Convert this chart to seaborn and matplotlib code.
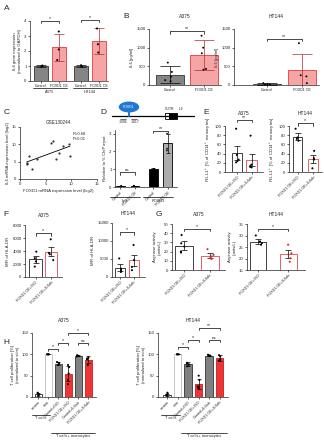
import numpy as np
import pandas as pd
import matplotlib
matplotlib.use('Agg')
import matplotlib.pyplot as plt
import seaborn as sns
from matplotlib.patches import Rectangle, Ellipse
from matplotlib.transforms import blended_transform_factory as btf

sns.set_style('ticks')
plt.rcParams['font.family'] = ['Liberation Sans', 'DejaVu Sans']
plt.rcParams['mathtext.default'] = 'regular'
np.random.seed(3)

# ---------------- data ----------------
# A
A_groups = ['A375', 'HT144']
A_conds = ['Control', 'FOXD1 OE']
A_means = [1.0, 2.25, 1.0, 2.65]
A_errs = [0.05, 0.9, 0.06, 0.85]
A_points = [[1.0, 1.03, 0.97, 1.0], [3.3, 2.1, 1.4], [1.0, 1.05, 0.96], [3.5, 2.45, 1.9]]
# B
B_cats = ['Control', 'FOXD1 OE']
B_A375_means = [280, 800]
B_A375_errs = [220, 400]
B_A375_points = [[600, 350, 220, 130, 100], [1320, 1000, 850, 430, 410]]
B_HT144_means = [30, 410]
B_HT144_errs = [25, 430]
B_HT144_points = [[50, 30, 20, 15], [1120, 260, 230, 50]]
# C
C_foxd1 = [1.3, 1.3, 1.8, 2.3, 3.3, 6.0, 6.5, 7.0, 7.6, 8.3, 9.6, 9.7]
C_il6 = [4.2, 4.6, 6.7, 3.0, 5.8, 10.4, 11.1, 5.8, 7.6, 9.4, 10.1, 6.7]
# D
D_groups = ['IgG', 'FOXD1']
D_conds = ['Control', 'FOXD1 OE']
D_means = [0.05, 0.06, 1.0, 2.45]
D_errs = [0.02, 0.02, 0.05, 0.55]
D_points = [[0.05, 0.06, 0.04], [0.06, 0.07, 0.05], [1.0, 1.02, 0.98], [3.0, 2.15, 2.05]]
# E, F, G
EFG_cats = ['FOXD1 OE+ISO', 'FOXD1 OE+IL6ab']
E_A375_means = [41, 26]
E_A375_errs = [15, 14]
E_A375_points = [[94, 37, 27, 24, 21], [79, 16, 13, 11, 10]]
E_HT144_means = [77, 28]
E_HT144_errs = [7, 8]
E_HT144_points = [[94, 75, 72, 68], [46, 30, 27, 8]]
F_A375_means = [2700, 3900]
F_A375_errs = [500, 720]
F_A375_points = [[3900, 2900, 2400, 1600], [5800, 3700, 3500, 2600]]
F_HT144_means = [2600, 4650]
F_HT144_errs = [900, 1600]
F_HT144_points = [[5150, 1880, 1400, 2300], [8900, 4700, 2800, 1900]]
G_A375_means = [26.3, 15.5]
G_A375_errs = [4.7, 2.9]
G_A375_points = [[38, 29, 20, 19, 25.5], [22.6, 16.4, 14.6, 12.8, 12]]
G_HT144_means = [27.3, 21.9]
G_HT144_errs = [1.0, 1.6]
G_HT144_points = [[30, 26.7, 26, 27.4], [26, 22.3, 20.1, 18.6]]
# H
H_cats = ['unstim', 'stim', 'Control+ISO', 'FOXD1 OE+ISO', 'Control+IL6ab', 'FOXD1 OE+IL6ab']
H_A375_means = [6, 100, 78, 55, 97, 87]
H_A375_errs = [3, 0, 4, 17, 2, 8]
H_A375_points = [[5, 8, 10, 3], [100, 100, 100, 100], [80, 78, 75, 82],
                 [75, 70, 55, 40, 30], [97, 98, 95, 96], [92, 90, 75, 88]]
H_HT144_means = [5, 100, 77, 30, 97, 92]
H_HT144_errs = [3, 0, 4, 12, 2, 7]
H_HT144_points = [[5, 8, 10, 3], [100, 100, 100, 100], [80, 78, 72, 76],
                  [50, 40, 25, 22, 20], [97, 98, 99, 96], [98, 95, 85, 88]]

# ---------------- helpers ----------------
W, H = 324, 440
fig = plt.figure(figsize=(W / 100, H / 100), dpi=100)
FS = 3.1     # tick labels
YL = 3.1     # axis labels
ROT = 2.7    # rotated category labels
TT = 3.6     # titles

def px_axes(l, t, r, b):
    return fig.add_axes([l / W, 1 - b / H, (r - l) / W, (b - t) / H])

def style(ax):
    sns.despine(ax=ax)
    ax.tick_params(labelsize=FS, length=1.5, width=0.5, pad=1)
    for s in ax.spines.values():
        s.set_linewidth(0.5)
    ax.set_xlabel('')

def rects_of(ax):
    return sorted([p for p in ax.patches if isinstance(p, Rectangle)], key=lambda p: p.get_x())

def finish_bars(ax, rects, means, errs, faces, edges, ecols, cap):
    cs = []
    for r, f, e, m, er, ec in zip(rects, faces, edges, means, errs, ecols):
        r.set_facecolor(f)
        r.set_edgecolor(e)
        r.set_linewidth(0.6)
        cx = r.get_x() + r.get_width() / 2
        cs.append(cx)
        ax.errorbar(cx, m, yerr=er, fmt='none', ecolor=ec, elinewidth=0.5,
                    capsize=cap, capthick=0.5, zorder=3)
    return cs

def simple_bars(ax, cats, means, errs, points, faces, edges, ecols, dots,
                width, cap=1.5, jitter=0.1, dsize=1.5):
    sns.barplot(x=cats, y=means, hue=cats, order=cats, hue_order=cats,
                palette=dict(zip(cats, faces)), width=width, errorbar=None,
                legend=False, saturation=1, ax=ax)
    cs = finish_bars(ax, rects_of(ax), means, errs, faces, edges, ecols, cap)
    px = [c for c, pts in zip(cats, points) for _ in pts]
    py = [v for pts in points for v in pts]
    sns.stripplot(x=px, y=py, hue=px, order=cats, hue_order=cats,
                  palette=dict(zip(cats, dots)), jitter=jitter, size=dsize,
                  legend=False, ax=ax, zorder=4, linewidth=0)
    style(ax)
    return cs

def grouped_bars(ax, groups, conds, means, errs, points, faces, edges, ecols,
                 gap, cap, jitter=0.05, dsize=1.5):
    g = [gr for gr in groups for _ in conds]
    c = [cd for _ in groups for cd in conds]
    sns.barplot(x=g, y=means, hue=c, order=groups, hue_order=conds,
                palette=dict(zip(conds, faces[:2])), width=0.9, gap=gap,
                errorbar=None, legend=False, saturation=1, ax=ax)
    cs = finish_bars(ax, rects_of(ax), means, errs, faces, edges, ecols, cap)
    pg = [gr for gr, pts in zip(g, points) for _ in pts]
    pc = [cd for cd, pts in zip(c, points) for _ in pts]
    pv = [v for pts in points for v in pts]
    sns.stripplot(x=pg, y=pv, hue=pc, order=groups, hue_order=conds, dodge=True,
                  palette={k: 'k' for k in conds}, jitter=jitter, size=dsize,
                  legend=False, ax=ax, zorder=4, linewidth=0)
    style(ax)
    return cs

def sig(ax, x1, x2, y, h, txt, fs=3.8):
    ax.plot([x1, x1, x2, x2], [y - h, y, y, y - h], color='k', lw=0.5, clip_on=False)
    ax.text((x1 + x2) / 2, y, txt, ha='center', va='bottom', fontsize=fs, clip_on=False)

def rot_labels(ax, cs, labels):
    ax.set_xticks(cs)
    ax.set_xticklabels(labels, rotation=45, ha='right', rotation_mode='anchor', fontsize=ROT)

def group_line(ax, x0, x1, yl, yt, txt):
    tr = btf(ax.transData, ax.transAxes)
    ax.plot([x0, x1], [yl, yl], transform=tr, color='k', lw=0.5, clip_on=False)
    ax.text((x0 + x1) / 2, yt, txt, transform=tr, ha='center', va='top', fontsize=2.9)

GREY, GREYE = '#858585', '#333333'
PINK, PINKE = '#f6a5a6', '#e6393d'
RED = '#ee3434'

# ---------------- A ----------------
ax = px_axes(30, 21, 108, 81)
cs = grouped_bars(ax, A_groups, A_conds, A_means, A_errs, A_points,
                  [GREY, PINK, GREY, PINK], [GREYE, PINKE, GREYE, PINKE],
                  ['k', '#b8282c', 'k', '#b8282c'], gap=0.2, cap=3.5)
ax.set_xlim(-0.5, 1.45)
ax.set_ylim(0, 4)
ax.set_yticks([0, 1, 2, 3, 4])
ax.set_xticks(cs)
ax.set_xticklabels(A_conds * 2, fontsize=2.6)
ax.set_ylabel('IL6 gene expression\n(normalized to GAPDH)', fontsize=YL, labelpad=1.5)
sig(ax, cs[0], cs[1], 4.0, 0.15, '*')
sig(ax, cs[2], cs[3], 4.05, 0.15, '*')
group_line(ax, cs[0] - 0.2, cs[1] + 0.2, -0.12, -0.15, A_groups[0])
group_line(ax, cs[2] - 0.2, cs[3] + 0.2, -0.12, -0.15, A_groups[1])

# ---------------- B ----------------
for (l, r, xl, means, errs, pts, title, sy) in [
        (149, 221, (-0.62, 1.5), B_A375_means, B_A375_errs, B_A375_points, 'A375', 1437),
        (234, 319, (-0.94, 1.49), B_HT144_means, B_HT144_errs, B_HT144_points, 'HT144', 1230)]:
    ax = px_axes(l, 29, r, 85)
    cs = simple_bars(ax, B_cats, means, errs, pts, [GREY, PINK], [GREYE, PINKE],
                     ['k', '#b8282c'], ['k', 'k'], width=0.82, cap=7, jitter=0.15, dsize=1.4)
    ax.set_xlim(*xl)
    ax.set_ylim(0, 1500)
    ax.set_yticks([0, 500, 1000, 1500])
    ax.set_xticks(cs)
    ax.set_xticklabels(B_cats, fontsize=2.6)
    ax.set_ylabel('IL6 [pg/ml]', fontsize=YL, labelpad=1.5)
    ax.set_title(title, fontsize=TT, pad=8)
    sig(ax, cs[0], cs[1], sy, 60, '**')

# ---------------- C ----------------
ax = px_axes(20, 127, 97, 179)
sns.regplot(x=C_foxd1, y=C_il6, ci=None, ax=ax,
            scatter_kws=dict(s=2.5, color='k', linewidths=0),
            line_kws=dict(color='k', lw=0.6))
style(ax)
ax.set_xlim(0, 15)
ax.set_ylim(0, 15)
ax.set_xticks([0, 5, 10, 15])
ax.set_yticks([0, 5, 10, 15])
ax.set_xlabel('FOXD1 mRNA expression level (log2)', fontsize=YL, labelpad=1.5)
ax.set_ylabel('IL6 mRNA expression level (log2)', fontsize=YL, labelpad=1.5)
ax.set_title('GSE130244', fontsize=3.3, pad=2)
ax.text(10.2, 13.5, 'R=0.68\nP=0.01', fontsize=3.0, va='top', ha='left')

# ---------------- D schematic ----------------
axs = px_axes(108, 98, 224, 128)
axs.set_xlim(108, 224)
axs.set_ylim(128, 98)
axs.axis('off')
axs.plot([112, 194], [116, 116], color='k', lw=0.9)
axs.add_patch(Ellipse((129, 107), 19, 9.5, color='#1f78d1'))
axs.text(129, 107, 'FOXD1', color='white', fontsize=2.5, ha='center', va='center')
axs.plot([129, 129], [111.5, 116], color='#1f78d1', lw=1.4)
axs.plot([120, 126], [119.2, 119.2], color='k', lw=0.4)
axs.plot([131, 137], [119.2, 119.2], color='k', lw=0.4)
axs.text(123, 120, '-1906', fontsize=2.4, ha='center', va='top')
axs.text(135, 120, '-1817', fontsize=2.4, ha='center', va='top')
axs.add_patch(Rectangle((165, 113), 4, 6, facecolor='white', edgecolor='k', lw=0.6))
axs.add_patch(Rectangle((169, 113), 8, 6, facecolor='k', edgecolor='k', lw=0.6))
axs.text(170, 111.5, "5'UTR", fontsize=2.4, ha='center', va='bottom')
axs.text(179, 111.5, 'IL6', fontsize=2.4, ha='left', va='bottom')

# ---------------- D bars ----------------
ax = px_axes(115, 130, 177, 187)
cs = grouped_bars(ax, D_groups, D_conds, D_means, D_errs, D_points,
                  ['k', 'k', 'k', '#adadad'], ['k', 'k', 'k', 'k'],
                  ['k', 'k', 'k', 'k'], gap=0.4, cap=1.5, jitter=0.03, dsize=1.2)
ax.set_xlim(-0.38, 1.5)
ax.set_ylim(0, 3.2)
ax.set_yticks([0, 1, 2, 3])
rot_labels(ax, cs, D_conds * 2)
ax.set_ylabel('Relative to % ChIP input', fontsize=YL, labelpad=1.5)
sig(ax, cs[0], cs[1], 0.85, 0.2, 'ns', fs=3.2)
sig(ax, cs[2], cs[3], 3.17, 0.15, '**')
group_line(ax, cs[0] - 0.3, cs[1] + 0.15, -0.18, -0.21, D_groups[0])
group_line(ax, cs[2] - 0.3, cs[3] + 0.15, -0.18, -0.21, D_groups[1])

# ---------------- E, F, G ----------------
efg = [
    (225, 126, 263, 172, (-0.83, 1.79), (0, 100), [0, 20, 40, 60, 80, 100], E_A375_means, E_A375_errs,
     E_A375_points, 'A375', 'PD-L1$^+$ [% of CD14$^+$ monocytes]', 114, 6, '**', ['k', 'k'], 0.7, 8),
    (289, 126, 322, 172, (-0.55, 1.58), (0, 100), [0, 20, 40, 60, 80, 100], E_HT144_means, E_HT144_errs,
     E_HT144_points, 'HT144', 'PD-L1$^+$ [% of CD14$^+$ monocytes]', 106, 6, '*', ['k', 'k'], 0.62, 8),
    (25, 225, 62, 277, (-0.68, 1.71), (0, 8000), [0, 2000, 4000, 6000, 8000], F_A375_means, F_A375_errs,
     F_A375_points, 'A375', 'MFI of HLA-DR', 6700, 450, '*', ['k', 'k'], 0.8, 6),
    (112, 223, 145, 277, (-0.62, 1.85), (0, 15000), [0, 5000, 10000, 15000], F_HT144_means, F_HT144_errs,
     F_HT144_points, 'HT144', 'MFI of HLA-DR', 12400, 800, '*', ['k', 'k'], 0.77, 6),
    (172, 224, 225, 270, (-0.46, 1.58), (0, 50), [0, 10, 20, 30, 40, 50], G_A375_means, G_A375_errs,
     G_A375_points, 'A375', 'Arginase activity\n(units/L)', 44.5, 2.5, '*', ['k', '#d42a2a'], 0.69, 6),
    (247, 224, 305, 270, (-0.36, 1.55), (15, 35), [15, 20, 25, 30, 35], G_HT144_means, G_HT144_errs,
     G_HT144_points, 'HT144', 'Arginase activity\n(units/L)', 32.8, 1.0, '*', ['k', '#d42a2a'], 0.55, 6),
]
for (l, t, r, b, xl, yl, yt, means, errs, pts, title, ylab, sy, sh, st, dots, wd, tpad) in efg:
    ax = px_axes(l, t, r, b)
    cs = simple_bars(ax, EFG_cats, means, errs, pts, ['white', 'white'], ['#222222', '#e0474c'],
                     ['k', 'k'], dots, width=wd, cap=2.2, jitter=0.15, dsize=1.5)
    ax.set_xlim(*xl)
    ax.set_ylim(*yl)
    ax.set_yticks(yt)
    rot_labels(ax, cs, EFG_cats)
    ax.set_ylabel(ylab, fontsize=YL, labelpad=1.5)
    ax.set_title(title, fontsize=TT, pad=tpad)
    sig(ax, cs[0], cs[1], sy, sh, st)

# ---------------- H ----------------
H_faces = ['white', 'white', '#808080', RED, '#808080', RED]
H_edges = ['#222222', '#bdbdbd', '#333333', '#c02020', '#333333', '#c02020']
for (l, r, xl, means, errs, pts, title, brs) in [
        (32, 96, (-0.6, 5.8), H_A375_means, H_A375_errs, H_A375_points, 'A375',
         [(1, 2, 112, '*'), (2, 3, 126, '*'), (4, 5, 126, 'ns'), (3, 5, 150, '*')]),
        (158, 228, (-0.86, 5.8), H_HT144_means, H_HT144_errs, H_HT144_points, 'HT144',
         [(1, 2, 117, '*'), (2, 3, 133, '*'), (4, 5, 133, 'ns'), (3, 5, 161, '**')])]:
    ax = px_axes(l, 333, r, 397)
    cs = simple_bars(ax, H_cats, means, errs, pts, H_faces, H_edges, ['k'] * 6, ['k'] * 6,
                     width=0.7, cap=1.5, jitter=0.12, dsize=1.5)
    ax.set_xlim(*xl)
    ax.set_ylim(0, 150)
    ax.set_yticks([0, 50, 100, 150])
    rot_labels(ax, cs, H_cats)
    ax.set_ylabel('T cell proliferation [%]\n(normalized to stim)', fontsize=YL, labelpad=1.5)
    ax.set_title(title, fontsize=TT, pad=8)
    for i, j, y, txt in brs:
        sig(ax, cs[i], cs[j], y, 5, txt, fs=3.2 if txt == 'ns' else 3.8)
    group_line(ax, cs[0] - 0.6, cs[1] + 0.2, -0.28, -0.3, 'T cells')
    group_line(ax, cs[1] + 0.3, cs[5] + 0.7, -0.56, -0.58, 'T cells+ monocytes')

# ---------------- panel letters ----------------
for lt, x, y in [('A', 4, 8), ('B', 123, 16), ('C', 4, 113), ('D', 100, 113), ('E', 203, 112),
                 ('F', 3, 214), ('G', 156, 214), ('H', 3, 342)]:
    fig.text(x / W, 1 - y / H, lt, fontsize=6, ha='left', va='center')

fig.savefig('out.png', dpi=100)
